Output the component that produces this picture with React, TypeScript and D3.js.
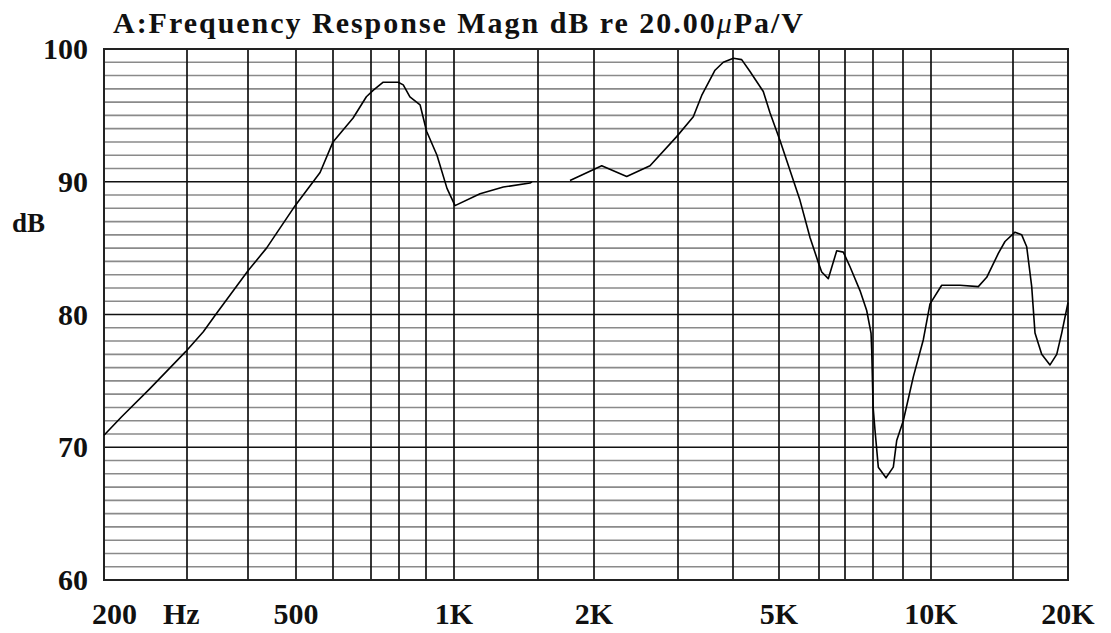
import React, { useEffect, useRef } from "react";
import * as d3 from "d3";

// vertical rules of the scan and where the (slightly uneven) printed log axis puts them
const gridFreqs = [200, 300, 400, 500, 600, 700, 800, 900, 1000, 1500, 2000, 3000, 4000, 5000, 6000, 7000, 8000, 9000, 10000, 15000, 20000];
const gridPx = [104, 187, 248, 296, 333, 371, 399, 426, 454, 538, 594, 678, 733, 779, 819, 845, 873, 903, 931, 1013, 1068];

const xTickFreqs = [500, 1000, 2000, 5000, 10000, 20000];
const xTickLabels = ["500", "1K", "2K", "5K", "10K", "20K"];
const yTicks = [60, 70, 80, 90, 100];

// the trace has a gap between ~1.46K and ~1.77K, so it comes in two pieces
const freqLow = [200, 218, 250, 298, 324, 345, 400, 436, 498, 563, 600, 651, 687, 708, 742, 797, 815, 839, 877, 902, 938, 974, 1005, 1134, 1269, 1443, 1457];
const dbLow = [70.9, 72.3, 74.4, 77.2, 78.7, 80.1, 83.3, 85.0, 88.2, 90.7, 93.0, 94.8, 96.4, 96.9, 97.5, 97.5, 97.3, 96.4, 95.8, 93.8, 92.0, 89.5, 88.2, 89.1, 89.6, 89.9, 90.0];

const freqHigh = [1768, 2076, 2342, 2621, 2981, 3250, 3396, 3641, 3802, 4008, 4172, 4344, 4633, 4786, 5023, 5502, 5759, 6011, 6097, 6340, 6664, 6930, 7169, 7519, 7763, 7925, 7951, 8004, 8063, 8168, 8419, 8664, 8780, 9010, 9356, 9715, 9963, 10543, 11542, 12635, 13172, 13949, 14418, 15157, 15699, 16115, 16542, 16830, 17430, 18203, 18854, 19352, 20000];
const dbHigh = [90.1, 91.2, 90.4, 91.2, 93.4, 94.9, 96.5, 98.4, 99.0, 99.3, 99.2, 98.3, 96.8, 95.2, 93.1, 88.6, 85.8, 83.7, 83.2, 82.7, 84.8, 84.7, 83.6, 81.8, 80.3, 78.6, 77.3, 73.0, 71.3, 68.5, 67.7, 68.5, 70.5, 72.0, 75.3, 78.1, 80.8, 82.2, 82.2, 82.1, 82.8, 84.6, 85.5, 86.2, 86.0, 85.1, 82.1, 78.6, 77.0, 76.2, 77.0, 78.6, 80.9];

const FONT = "'Liberation Serif', 'Times New Roman', serif";

const FrequencyResponse = () => {
  const ref = useRef<SVGSVGElement>(null);

  useEffect(() => {
    const width = 1111;
    const height = 633;

    const svg = d3.select(ref.current);
    svg.selectAll("*").remove();
    svg.attr("width", width).attr("height", height);

    const x = d3.scaleLog().domain(gridFreqs).range(gridPx);
    const y = d3.scaleLinear().domain([60, 100]).range([580, 49]);
    const x0 = x(200);
    const x1 = x(20000);

    svg.append("rect").attr("width", width).attr("height", height).attr("fill", "#fff");

    // 1 dB rules, grey, majors drawn later on top
    const dbRules = d3.range(61, 100).filter((d) => d % 10 !== 0);
    svg
      .append("g")
      .selectAll("line")
      .data(dbRules)
      .enter()
      .append("line")
      .attr("x1", x0)
      .attr("x2", x1)
      .attr("y1", (d) => y(d))
      .attr("y2", (d) => y(d))
      .attr("stroke", "#8a8a8a")
      .attr("stroke-width", 1.6);

    svg
      .append("g")
      .selectAll("line")
      .data(gridFreqs)
      .enter()
      .append("line")
      .attr("x1", (d) => x(d))
      .attr("x2", (d) => x(d))
      .attr("y1", y(100))
      .attr("y2", y(60))
      .attr("stroke", "#111")
      .attr("stroke-width", 1.7);

    svg
      .append("g")
      .selectAll("line")
      .data(yTicks)
      .enter()
      .append("line")
      .attr("x1", x0)
      .attr("x2", x1)
      .attr("y1", (d) => y(d))
      .attr("y2", (d) => y(d))
      .attr("stroke", "#111")
      .attr("stroke-width", 1.7);

    svg
      .append("rect")
      .attr("x", x0)
      .attr("y", y(100))
      .attr("width", x1 - x0)
      .attr("height", y(60) - y(100))
      .attr("fill", "none")
      .attr("stroke", "#222")
      .attr("stroke-width", 2);

    const line = d3
      .line<[number, number]>()
      .x((d) => x(d[0]))
      .y((d) => y(d[1]));

    const pieces = [
      freqLow.map((f, i) => [f, dbLow[i]] as [number, number]),
      freqHigh.map((f, i) => [f, dbHigh[i]] as [number, number]),
    ];
    svg
      .append("g")
      .selectAll("path")
      .data(pieces)
      .enter()
      .append("path")
      .attr("d", (d) => line(d))
      .attr("fill", "none")
      .attr("stroke", "#000")
      .attr("stroke-width", 1.6)
      .attr("stroke-linejoin", "round");

    const txt = (sel: any) => sel.attr("font-family", FONT).attr("font-weight", "bold").attr("fill", "#111");

    // y labels
    svg
      .append("g")
      .selectAll("text")
      .data(yTicks)
      .enter()
      .append("text")
      .call(txt)
      .attr("x", 88)
      .attr("y", (d) => y(d))
      .attr("dy", "0.34em")
      .attr("text-anchor", "end")
      .attr("font-size", 30)
      .text((d) => d);

    svg.append("text").call(txt).attr("x", 12).attr("y", 232).attr("font-size", 27).text("dB");

    // x labels
    svg
      .append("g")
      .selectAll("text")
      .data(xTickFreqs)
      .enter()
      .append("text")
      .call(txt)
      .attr("x", (d) => x(d))
      .attr("y", 624)
      .attr("text-anchor", "middle")
      .attr("font-size", 30)
      .text((d, i) => xTickLabels[i]);

    svg.append("text").call(txt).attr("x", x0 - 12).attr("y", 624).attr("font-size", 30).text("200");
    svg.append("text").call(txt).attr("x", x0 + 59).attr("y", 624).attr("font-size", 30).text("Hz");

    const title = svg
      .append("text")
      .call(txt)
      .attr("x", 113)
      .attr("y", 33)
      .attr("font-size", 30)
      .attr("textLength", 690)
      .attr("lengthAdjust", "spacing");
    title.append("tspan").text("A:Frequency Response Magn dB re 20.00");
    title.append("tspan").attr("font-style", "italic").attr("font-weight", "normal").text("\u03bc");
    title.append("tspan").text("Pa/V");
  }, []);

  return <svg ref={ref} style={{ position: "absolute", left: 0, top: 0, display: "block" }} />;
};

export default function App() {
  return <FrequencyResponse />;
}
